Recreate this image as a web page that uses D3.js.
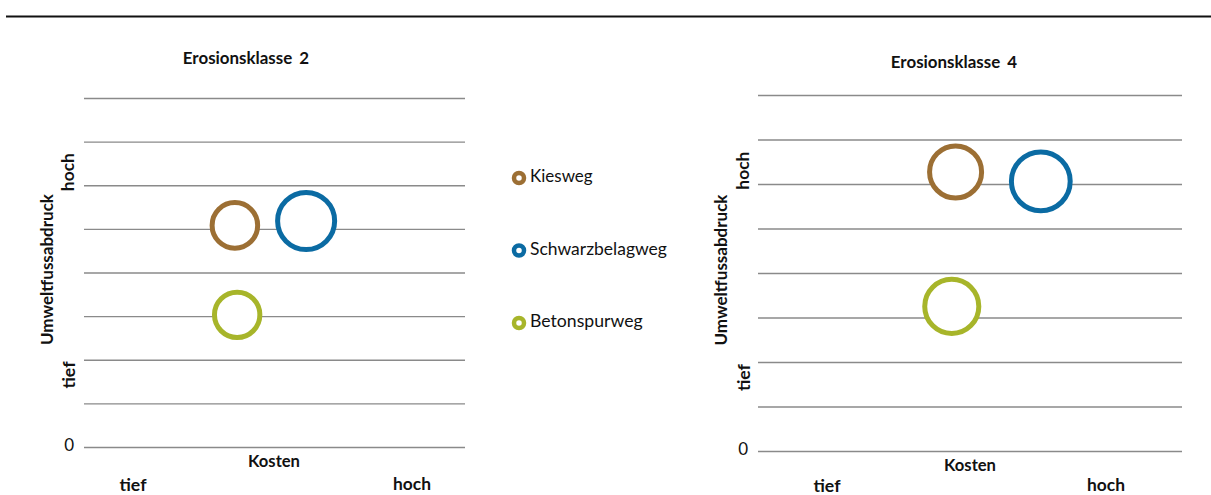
<!DOCTYPE html>
<html>
<head>
<meta charset="utf-8">
<script src="https://cdn.jsdelivr.net/npm/d3@7"></script>
<style>
  html, body { margin: 0; padding: 0; background: #fff; }
  svg { display: block; }
  text { font-family: Lato, "Open Sans", sans-serif; fill: #111; }
</style>
</head>
<body>
<svg id="chart" width="1211" height="495"></svg>
<script>
// Wegtypen und Farben
const series = ["Kiesweg", "Schwarzbelagweg", "Betonspurweg"];
const colors = ["#9c6f34", "#0b6ba3", "#a7b52a"];

// Erosionsklasse 2: Kosten, Umweltfussabdruck, Blasengrösse
const kosten2 = [3.96, 5.83, 4.02];
const umwelt2 = [5.08, 5.18, 3.03];
const groesse2 = [14.4, 22.6, 14.3];

// Erosionsklasse 4
const kosten4 = [4.66, 6.67, 4.57];
const umwelt4 = [6.27, 6.06, 3.25];
const groesse4 = [18.8, 24.0, 20.3];

const titles = ["Erosionsklasse 2", "Erosionsklasse 4"];
const yGridTicks = [0, 1, 2, 3, 4, 5, 6, 7, 8];
const yTickLabels = ["0"];
const xEndLabels = ["tief", "hoch"];
const yEndLabels = ["tief", "hoch"];
const xTitle = "Kosten";
const yTitle = "Umweltfussabdruck";

const svg = d3.select("#chart");

// Schriftgrösse so wählen, dass der Text die gewünschte Breite hat
function fitWidth(sel, width) {
  const node = sel.node();
  const base = parseFloat(sel.style("font-size"));
  const len = node.getComputedTextLength();
  if (len > 0) sel.style("font-size", (base * width / len).toFixed(2) + "px");
  return sel;
}

// Trennlinie oben
svg.append("line")
  .attr("x1", 6).attr("x2", 1211)
  .attr("y1", 16.5).attr("y2", 16.5)
  .attr("stroke", "#111").attr("stroke-width", 2);

const rScale = d3.scaleSqrt().domain([0, 25]).range([0, 30]);

const panels = [
  { title: titles[0], kosten: kosten2, umwelt: umwelt2, groesse: groesse2,
    left: 84, right: 465, top: 98, bottom: 447, titleX: 246, titleY: 60,
    yTitleX: 49, yEndX: 70, zeroX: 69, xTitleX: 274, xTitleY: 463, xEndY: 486, tiefX: 133, hochX: 412 },
  { title: titles[1], kosten: kosten4, umwelt: umwelt4, groesse: groesse4,
    left: 758, right: 1182, top: 95, bottom: 451, titleX: 954, titleY: 64,
    yTitleX: 723, yEndX: 745, zeroX: 743, xTitleX: 970, xTitleY: 467, xEndY: 487, tiefX: 827, hochX: 1106 }
];

panels.forEach(p => {
  const g = svg.append("g");
  const x = d3.scaleLinear().domain([0, 10]).range([p.left, p.right]);
  const y = d3.scaleLinear().domain([0, 8]).range([p.bottom, p.top]);

  // Gitterlinien über d3-Achse
  const yAxis = d3.axisLeft(y)
    .tickValues(yGridTicks)
    .tickSize(-(p.right - p.left))
    .tickFormat(d => (d === 0 ? yTickLabels[0] : ""));
  const ag = g.append("g")
    .attr("transform", `translate(${p.left},0)`)
    .call(yAxis);
  ag.select(".domain").remove();
  ag.selectAll(".tick line")
    .attr("stroke", "#8a8a8a").attr("stroke-width", 1.4);
  ag.selectAll(".tick text")
    .attr("x", p.zeroX - p.left + 5)
    .attr("dy", "0.2em")
    .style("font-family", "Lato, sans-serif")
    .style("font-size", "17px")
    .attr("fill", "#111");

  // Titel
  fitWidth(g.append("text")
    .attr("x", p.titleX)
    .attr("y", p.titleY)
    .attr("text-anchor", "middle")
    .attr("dominant-baseline", "middle")
    .style("font-weight", "bold")
    .style("font-size", "14px")
    .style("word-spacing", "3px")
    .text(p.title), 127);

  // X-Achsentitel
  fitWidth(g.append("text")
    .attr("x", p.xTitleX)
    .attr("y", p.xTitleY)
    .attr("text-anchor", "middle")
    .attr("dominant-baseline", "middle")
    .style("font-weight", "bold")
    .style("font-size", "14px")
    .text(xTitle), 52);
  // tief / hoch unten
  [p.tiefX, p.hochX].forEach((xx, i) => {
    fitWidth(g.append("text")
      .attr("x", xx).attr("y", p.xEndY)
      .attr("text-anchor", "middle")
      .attr("dominant-baseline", "middle")
      .style("font-weight", "bold")
      .style("font-size", "15px")
      .text(xEndLabels[i]), i === 0 ? 27 : 38);
  });

  // Y-Achsentitel (gedreht)
  fitWidth(g.append("text")
    .attr("transform", `translate(${p.yTitleX},${(p.top + p.bottom) / 2 - 3}) rotate(-90)`)
    .attr("text-anchor", "middle")
    .attr("dominant-baseline", "middle")
    .style("font-weight", "bold")
    .style("font-size", "15px")
    .text(yTitle), 151);
  // tief / hoch links
  [y(1.65), y(6.3)].forEach((yy, i) => {
    fitWidth(g.append("text")
      .attr("transform", `translate(${p.yEndX},${yy}) rotate(-90)`)
      .attr("text-anchor", "middle")
      .attr("dominant-baseline", "middle")
      .style("font-weight", "bold")
      .style("font-size", "15px")
      .text(yEndLabels[i]), i === 0 ? 27 : 38);
  });

  // Blasen
  g.selectAll("circle.bubble")
    .data(series.map((s, i) => ({ s, i, k: p.kosten[i], u: p.umwelt[i], r: p.groesse[i] })))
    .join("circle")
    .attr("class", "bubble")
    .attr("cx", d => x(d.k))
    .attr("cy", d => y(d.u))
    .attr("r", d => rScale(d.r))
    .attr("fill", "#fff")
    .attr("stroke", d => colors[d.i])
    .attr("stroke-width", 5);
});

// Legende
const legendY = d3.scalePoint().domain(series).range([178, 323]);
const legendW = [62.7, 137, 112.7];
const lg = svg.append("g");
series.forEach((s, i) => {
  lg.append("circle")
    .attr("cx", 519).attr("cy", legendY(s))
    .attr("r", 5).attr("fill", "#fff")
    .attr("stroke", colors[i]).attr("stroke-width", 4.5);
  fitWidth(lg.append("text")
    .attr("x", 530).attr("y", legendY(s))
    .attr("dominant-baseline", "middle")
    .style("font-size", "16px")
    .text(s), legendW[i]);
});
</script>
</body>
</html>
